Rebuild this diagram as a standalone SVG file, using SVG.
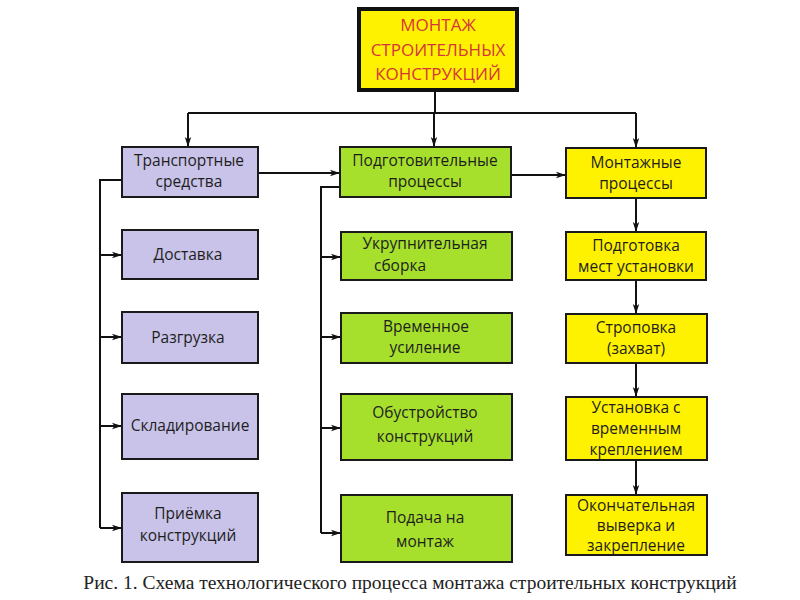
<svg xmlns="http://www.w3.org/2000/svg" width="800" height="600" viewBox="0 0 800 600">
<defs>
<marker id="ah" markerWidth="10" markerHeight="8" refX="10" refY="4" orient="auto" markerUnits="userSpaceOnUse">
<path d="M0,0.8 L10,4 L0,7.2 L2.5,4 Z" fill="#111"/>
</marker>
<style>
.box{stroke:#1a1a1a;stroke-width:2}
.lav{fill:#c9c3e9}
.grn{fill:#a6e02c}
.yel{fill:#fff200}
.t{font-family:"Open Sans","DejaVu Sans",sans-serif;font-size:15.5px;fill:#1e1e1e;text-anchor:middle}
.c{fill:none;stroke:#111;stroke-width:2}
.ca{fill:none;stroke:#111;stroke-width:2;marker-end:url(#ah)}
</style>
</defs>
<rect width="800" height="600" fill="#fff"/>
<g id="connectors">
<path class="c" d="M435,90 V113"/>
<path class="c" d="M188,113 H636"/>
<path class="ca" d="M188,113 V147"/>
<path class="ca" d="M434,113 V147"/>
<path class="ca" d="M636,113 V148"/>
<path class="ca" d="M258,173 H340"/>
<path class="ca" d="M511,175 H566"/>
<path class="c" d="M122,180 H100 V528"/>
<path class="ca" d="M100,255 H122"/>
<path class="ca" d="M100,337 H122"/>
<path class="ca" d="M100,426 H122"/>
<path class="ca" d="M100,528 H122"/>
<path class="c" d="M340,187 H321 V533"/>
<path class="ca" d="M321,257 H341"/>
<path class="ca" d="M321,337 H341"/>
<path class="ca" d="M321,428 H341"/>
<path class="ca" d="M321,533 H341"/>
<path class="ca" d="M636,198 V232"/>
<path class="ca" d="M636,280 V314"/>
<path class="ca" d="M636,363 V397"/>
<path class="ca" d="M636,460 V495"/>
</g>
<g id="root">
<rect x="359" y="9" width="158" height="81" fill="#fff200" stroke="#111" stroke-width="4"/>
<text font-family="'Open Sans','DejaVu Sans',sans-serif" font-size="17px" fill="#d4363c" text-anchor="middle"><tspan x="438" y="31">МОНТАЖ</tspan><tspan x="438" y="56">СТРОИТЕЛЬНЫХ</tspan><tspan x="438" y="80">КОНСТРУКЦИЙ</tspan></text>
</g>
<g id="transport"><rect class="box lav" x="122" y="147" width="136" height="50"/><text class="t"><tspan x="189" y="166">Транспортные</tspan><tspan x="189" y="187">средства</tspan></text></g>
<g id="delivery"><rect class="box lav" x="122" y="230" width="136" height="49"/><text class="t" x="188" y="260">Доставка</text></g>
<g id="unloading"><rect class="box lav" x="122" y="312" width="136" height="51"/><text class="t" x="188" y="343">Разгрузка</text></g>
<g id="storage"><rect class="box lav" x="122" y="394" width="136" height="65"/><text class="t" x="190" y="431">Складирование</text></g>
<g id="acceptance"><rect class="box lav" x="122" y="493" width="136" height="69"/><text class="t"><tspan x="188" y="519">Приёмка</tspan><tspan x="188" y="541">конструкций</tspan></text></g>
<g id="prep"><rect class="box grn" x="340" y="147" width="171" height="50"/><text class="t"><tspan x="425" y="166">Подготовительные</tspan><tspan x="425" y="187">процессы</tspan></text></g>
<g id="enlarge"><rect class="box grn" x="341" y="232" width="171" height="48"/><text class="t"><tspan x="425" y="249">Укрупнительная</tspan><tspan x="400" y="271">сборка</tspan></text></g>
<g id="reinforce"><rect class="box grn" x="341" y="313" width="171" height="50"/><text class="t"><tspan x="426" y="332">Временное</tspan><tspan x="425" y="353">усиление</tspan></text></g>
<g id="equip"><rect class="box grn" x="341" y="394" width="171" height="66"/><text class="t"><tspan x="425" y="418">Обустройство</tspan><tspan x="425" y="442">конструкций</tspan></text></g>
<g id="feed"><rect class="box grn" x="341" y="495" width="171" height="67"/><text class="t"><tspan x="425" y="523">Подача на</tspan><tspan x="425" y="547">монтаж</tspan></text></g>
<g id="mount"><rect class="box yel" x="566" y="148" width="140" height="50"/><text class="t"><tspan x="636" y="168">Монтажные</tspan><tspan x="636" y="189">процессы</tspan></text></g>
<g id="siteprep"><rect class="box yel" x="566" y="232" width="140" height="48"/><text class="t"><tspan x="636" y="251">Подготовка</tspan><tspan x="636" y="272">мест установки</tspan></text></g>
<g id="sling"><rect class="box yel" x="566" y="314" width="141" height="49"/><text class="t"><tspan x="636" y="333">Строповка</tspan><tspan x="636" y="354">(захват)</tspan></text></g>
<g id="install"><rect class="box yel" x="566" y="397" width="141" height="63"/><text class="t"><tspan x="636" y="413">Установка с</tspan><tspan x="636" y="434">временным</tspan><tspan x="636" y="455">креплением</tspan></text></g>
<g id="final"><rect class="box yel" x="566" y="495" width="141" height="60"/><text class="t"><tspan x="636" y="511">Окончательная</tspan><tspan x="636" y="531">выверка и</tspan><tspan x="636" y="551">закрепление</tspan></text></g>
<text x="410" y="589" font-family="'Liberation Serif','Times New Roman',serif" font-size="19.5px" fill="#222" text-anchor="middle">Рис. 1. Схема технологического процесса монтажа строительных конструкций</text>
</svg>
